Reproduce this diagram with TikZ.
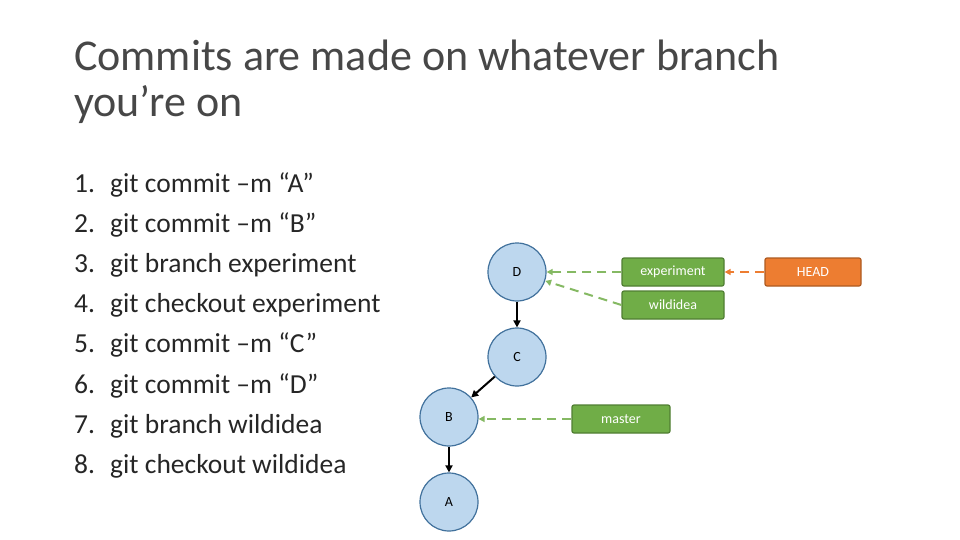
\documentclass[tikz,border=0pt]{standalone}
\usepackage{fontspec}
\setmainfont{Carlito}
\usetikzlibrary{arrows.meta}
\definecolor{cfill}{HTML}{BDD7EE}
\definecolor{cdraw}{HTML}{41719C}
\definecolor{gfill}{HTML}{70AD47}
\definecolor{gdraw}{HTML}{507E32}
\definecolor{ofill}{HTML}{ED7D31}
\definecolor{odraw}{HTML}{AE5A21}
\definecolor{ttl}{HTML}{262626}
\tikzset{
  commit/.style={circle,fill=cfill,draw=cdraw,line width=1.2pt,minimum size=58pt,inner sep=0pt,font=\fontsize{14}{16}\selectfont},
  gbox/.style={rectangle,rounded corners=2pt,fill=gfill,draw=gdraw,line width=1.2pt,text=white,minimum width=102pt,minimum height=28pt,inner sep=0pt,font=\fontsize{14}{16}\selectfont},
  obox/.style={gbox,fill=ofill,draw=odraw,minimum width=96pt},
  parent/.style={-{Triangle[length=7pt,width=7pt]},line width=2pt,black},
  gref/.style={-{Triangle[length=6pt,width=6pt]},line width=2pt,gfill!85!white,dash pattern=on 9pt off 6pt},
  oref/.style={gref,ofill},
  item/.style={anchor=base west,font=\fontsize{27.5}{32}\selectfont,inner sep=0pt,text=ttl},
  ttlsty/.style={anchor=base west,inner sep=0pt,font=\fontsize{44}{50}\selectfont,text=ttl!85!white}
}
\begin{document}
\begin{tikzpicture}[x=1pt,y=-1pt]
\useasboundingbox (0,0) rectangle (960,540);
\node[ttlsty] (title) at (74,71) {Commits are made on whatever branch};
\node[ttlsty] (title2) at (74,117) {you’re on};
\foreach \i/\t in {1/git commit –m “A”,2/git commit –m “B”,3/git branch experiment,4/git checkout experiment,5/git commit –m “C”,6/git commit –m “D”,7/git branch wildidea,8/git checkout wildidea}{
  \node[item] (n\i) at (74,{192+(\i-1)*40.2}) {\i.};
  \node[item] (t\i) at (110,{192+(\i-1)*40.2}) {\t};
}
\node[commit] (D) at (517,272) {D};
\node[commit] (C) at (517,357) {C};
\node[commit] (B) at (449,417) {B};
\node[commit] (A) at (449,502) {A};
\node[gbox] (exp) at (673,272) {experiment};
\node[gbox] (wild) at (673,305) {wildidea};
\node[gbox,minimum width=98pt] (master) at (621,419) {master};
\node[obox] (head) at (813,272) {HEAD};
\draw[parent] (D) -- (C);
\draw[parent] (C) -- (B);
\draw[parent] (B) -- (A);
\draw[gref] (exp) -- (D);
\draw[gref] (wild.west) -- (D);
\draw[gref] (master.west) -- (B.east |- master.west);
\draw[oref] (head) -- (exp);
\end{tikzpicture}
\end{document}
